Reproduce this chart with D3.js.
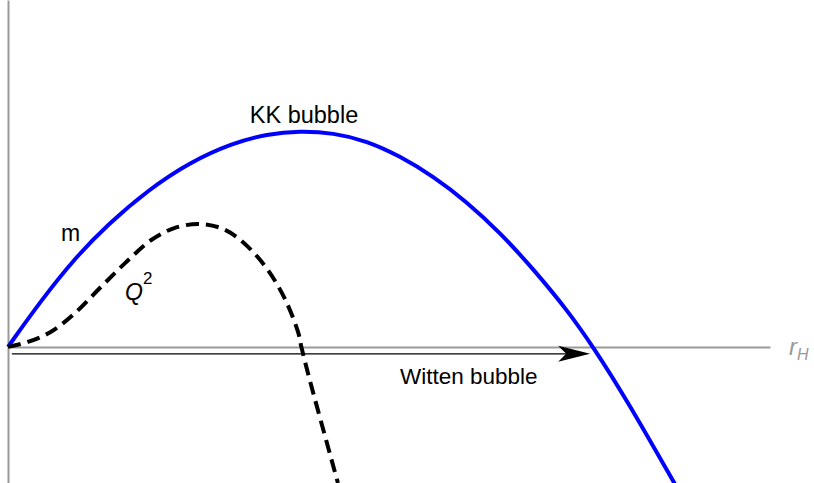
<!DOCTYPE html>
<html>
<head>
<meta charset="utf-8">
<script src="https://cdn.jsdelivr.net/npm/d3@7"></script>
<style>
  body { margin: 0; background: #fff; }
  text { font-family: "Liberation Sans", Arial, sans-serif; }
</style>
</head>
<body>
<div id="chart"></div>
<script>
// m (KK bubble), r in units of the axis length
var mR = [0, 0.043, 0.088, 0.131, 0.184, 0.239, 0.295, 0.340, 0.383, 0.427, 0.471, 0.514,
  0.558, 0.602, 0.646, 0.689, 0.734, 0.768, 0.812, 0.875];
var mVal = [0, 0.213, 0.412, 0.567, 0.727, 0.856, 0.944, 0.986, 1.000, 0.991, 0.954, 0.884,
  0.790, 0.672, 0.528, 0.362, 0.170, 0, -0.245, -0.634];

// Q^2, dashed
var qR = [0, 0.026, 0.056, 0.088, 0.122, 0.154, 0.188, 0.219, 0.253, 0.285, 0.315, 0.341,
  0.364, 0.381, 0.385, 0.396, 0.433];
var qVal = [0, 0.023, 0.069, 0.157, 0.278, 0.389, 0.495, 0.551, 0.569, 0.542, 0.463, 0.356,
  0.218, 0.065, 0, -0.153, -0.630];

// Witten bubble arrow (start, end in r) and its level
var arrowR = [0.005, 0.764];
var arrowVal = -0.032;

var width = 814,
  height = 483;

var x = d3.scaleLinear()
  .domain([0, 1])
  .range([8, 770]);

var y = d3.scaleLinear()
  .domain([-0.63, 1.606])
  .range([height, 0]);

var svg = d3.select("#chart").append("svg")
  .attr("width", width)
  .attr("height", height);

// axes, no ticks
svg.append("g")
  .attr("transform", "translate(0," + y(0) + ")")
  .call(d3.axisBottom(x).tickValues([]).tickSizeOuter(0))
  .select(".domain")
  .attr("stroke", "#999")
  .attr("stroke-width", 2);

svg.append("g")
  .attr("transform", "translate(" + x(0) + ",0)")
  .call(d3.axisLeft(y).tickValues([]).tickSizeOuter(0))
  .select(".domain")
  .attr("stroke", "#999")
  .attr("stroke-width", 2);

// arrow
svg.append("line")
  .attr("x1", x(arrowR[0]))
  .attr("x2", x(arrowR[1]) - 20)
  .attr("y1", y(arrowVal))
  .attr("y2", y(arrowVal))
  .attr("stroke", "#000")
  .attr("stroke-width", 1.4);

var tipX = x(arrowR[1]), tipY = y(arrowVal);
svg.append("path")
  .attr("d", "M" + tipX + "," + tipY +
    " L" + (tipX - 32) + "," + (tipY - 8) +
    " L" + (tipX - 24) + "," + tipY +
    " L" + (tipX - 32) + "," + (tipY + 8) + " Z")
  .attr("fill", "#000");

var smooth = d3.line().curve(d3.curveBasis);
var line = d3.line().curve(d3.curveCatmullRom);

svg.append("path")
  .attr("d", smooth(mR.map(function(r, i) { return [x(r), y(mVal[i])]; })))
  .attr("fill", "none")
  .attr("stroke", "#0000ff")
  .attr("stroke-width", 4);

svg.append("path")
  .attr("d", line(qR.map(function(r, i) { return [x(r), y(qVal[i])]; })))
  .attr("fill", "none")
  .attr("stroke", "#000")
  .attr("stroke-width", 4)
  .attr("stroke-dasharray", "13,7");

// labels
svg.append("text")
  .attr("x", 304).attr("y", 123)
  .attr("text-anchor", "middle")
  .attr("font-size", 23.5)
  .text("KK bubble");

svg.append("text")
  .attr("x", 61).attr("y", 241)
  .attr("font-size", 23)
  .text("m");

var q = svg.append("text")
  .attr("x", 125).attr("y", 300)
  .attr("font-size", 23);
q.append("tspan").attr("font-style", "italic").text("Q");
q.append("tspan").attr("font-size", 17).attr("dy", -16).text("2");

svg.append("text")
  .attr("x", 400).attr("y", 384)
  .attr("font-size", 22.5)
  .text("Witten bubble");

var rh = svg.append("text")
  .attr("x", 789).attr("y", 355)
  .attr("font-size", 24)
  .attr("fill", "#999");
rh.append("tspan").attr("font-style", "italic").text("r");
rh.append("tspan").attr("font-style", "italic").attr("font-size", 16).attr("dy", 5).text("H");
</script>
</body>
</html>
